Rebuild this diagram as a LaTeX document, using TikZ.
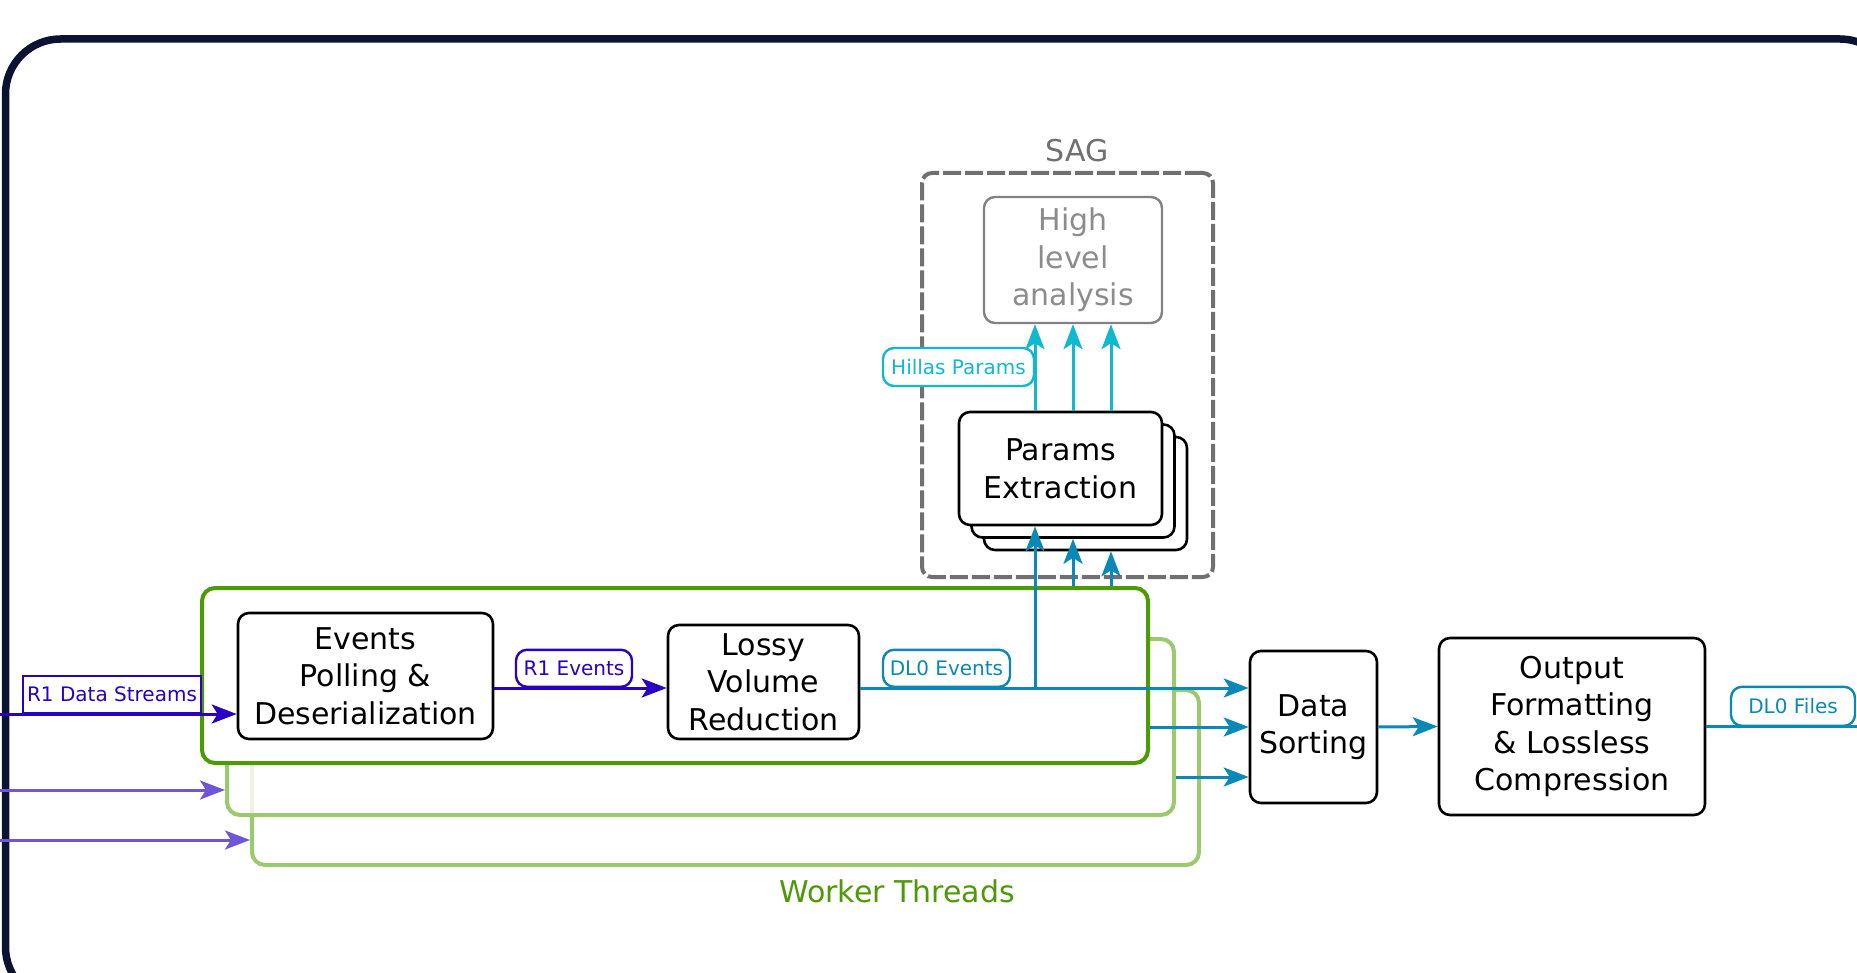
\documentclass[tikz,border=0pt]{standalone}
\usepackage{fontspec}
\setmainfont{DejaVu Sans}
\usetikzlibrary{arrows.meta,calc}
\definecolor{framenavy}{RGB}{10,20,50}
\definecolor{wgreen}{RGB}{77,154,6}
\definecolor{wlight}{RGB}{155,201,110}
\definecolor{rpurple}{RGB}{42,0,194}
\definecolor{rlight}{RGB}{112,86,214}
\definecolor{dlblue}{RGB}{10,136,184}
\definecolor{hillas}{RGB}{16,185,207}
\definecolor{saggray}{RGB}{112,112,112}
\definecolor{hlagray}{RGB}{130,130,130}
\definecolor{hlatext}{RGB}{140,140,140}
\begin{document}
\begin{tikzpicture}[x=1pt,y=-1pt,
  bigfont/.style={font=\fontsize{30}{37.6}\selectfont},
  smallfont/.style={font=\fontsize{20}{24}\selectfont},
  procbox/.style={draw=black, line width=2.6pt, rounded corners=11pt, fill=white,
    inner sep=0pt, align=center, bigfont},
  wbox/.style={line width=4pt, rounded corners=13pt, inner sep=0pt},
  lbl/.style={draw, line width=2.4pt, rounded corners=11pt, fill=white,
    inner sep=0pt, smallfont, minimum height=37pt},
  wire/.style={line width=3pt, -{Stealth[length=25pt,width=19pt,inset=6pt]}},
  plainwire/.style={line width=3pt}
]
\useasboundingbox (0,0) rectangle (1857,973);

% outer frame
\draw[draw=framenavy, line width=7.5pt, rounded corners=55pt] (5.5,39) rectangle (1895,1002);

% SAG group
\node[draw=saggray, line width=4pt, rounded corners=10pt, dash pattern=on 18pt off 4pt,
  minimum width=291pt, minimum height=404pt, inner sep=0pt] (sag) at (1067.5,375) {};
\node[bigfont, text=saggray, inner sep=0pt] (saglbl) at (1077,151) {SAG};
\node[procbox, draw=hlagray, text=hlatext, line width=2.4pt, minimum width=178pt, minimum height=126pt] (hla) at (1073,260) {High\\level\\analysis};
\node[procbox, minimum width=203pt, minimum height=113pt] (pe3) at (1085.5,493.5) {};
\node[procbox, minimum width=203pt, minimum height=113pt] (pe2) at (1073,481) {};
\node[procbox, minimum width=203pt, minimum height=113pt] (pe1) at (1060.5,468.5) {Params\\Extraction};

% worker thread boxes
\node[wbox, draw=wlight, fill=white, minimum width=947pt, minimum height=175pt] (wt3) at (725.5,777.5) {};
\node[wbox, draw=wlight, fill=white, fill opacity=0.8, minimum width=947pt, minimum height=176pt] (wt2) at (700.5,727) {};
\node[wbox, draw=wgreen, fill=white, minimum width=946pt, minimum height=175pt] (wt1) at (675,675.5) {};
\node[bigfont, text=wgreen, inner sep=0pt] (wtlbl) at (897,891.6) {Worker Threads};

% processing boxes
\node[procbox, minimum width=255pt, minimum height=126pt] (epd) at (365.5,676) {Events\\Polling \&\\Deserialization};
\node[procbox, minimum width=191pt, minimum height=114pt] (lvr) at (763.5,682) {Lossy\\Volume\\Reduction};
\node[procbox, minimum width=127pt, minimum height=152pt] (ds) at (1313.5,727) {Data\\Sorting};
\node[procbox, minimum width=266pt, minimum height=177pt] (out) at (1572,726.5) {Output\\Formatting\\\& Lossless\\Compression};

% helper coordinates
\coordinate (in1) at (0,714);
\coordinate (in2) at (0,790);
\coordinate (in3) at (0,840);
\coordinate (row1) at (0,688);
\coordinate (row3) at (0,777);
\coordinate (c1) at (1035,0);
\coordinate (c2) at (1073,0);
\coordinate (c3) at (1111,0);
\coordinate (exitR) at (1875,0);

% input streams
\draw[wire, rlight] (in2) -- (in2 -| wt2.west);
\draw[wire, rlight] (in3) -- (in3 -| wt3.west);
\draw[wire, rpurple] (in1) -- (in1 -| epd.west);
\node[lbl, draw=rpurple, text=rpurple, rounded corners=0pt, line width=2pt,
  minimum width=178pt, anchor=south] (r1ds) at (112,714) {R1 Data Streams};

% R1 events
\draw[wire, rpurple] (epd.east |- row1) -- (lvr.west |- row1);
\node[lbl, draw=rpurple, text=rpurple, minimum width=116pt, anchor=south] (r1ev) at (574,688) {R1 Events};

% DL0 events
\draw[wire, dlblue] (lvr.east |- row1) -- (ds.west |- row1);
\draw[wire, dlblue] (c1 |- row1) -- (c1 |- pe1.south);
\draw[wire, dlblue] (c2 |- wt1.north) -- (c2 |- pe2.south);
\draw[wire, dlblue] (c3 |- wt1.north) -- (c3 |- pe3.south);
\node[lbl, draw=dlblue, text=dlblue, minimum width=127pt, anchor=south] (dl0ev) at (946.5,688) {DL0 Events};

% to data sorting from other threads
\draw[wire, dlblue] (wt1.east |- ds.west) -- (ds.west);
\draw[wire, dlblue] (wt2.east |- row3) -- (ds.west |- row3);

% hillas params
\draw[wire, hillas] (c1 |- pe1.north) -- (c1 |- hla.south);
\draw[wire, hillas] (c2 |- pe1.north) -- (c2 |- hla.south);
\draw[wire, hillas] (c3 |- pe1.north) -- (c3 |- hla.south);
\node[lbl, draw=hillas, text=hillas, minimum width=151pt, minimum height=38pt] (hp) at (958.5,367) {Hillas Params};

% output
\draw[wire, dlblue] (ds.east) -- (out.west);
\draw[plainwire, dlblue] (out.east) -- (out.east -| exitR);
\node[lbl, draw=dlblue, text=dlblue, minimum width=124pt, minimum height=39pt, anchor=south] (dl0f) at (1793,727) {DL0 Files};
\end{tikzpicture}
\end{document}
